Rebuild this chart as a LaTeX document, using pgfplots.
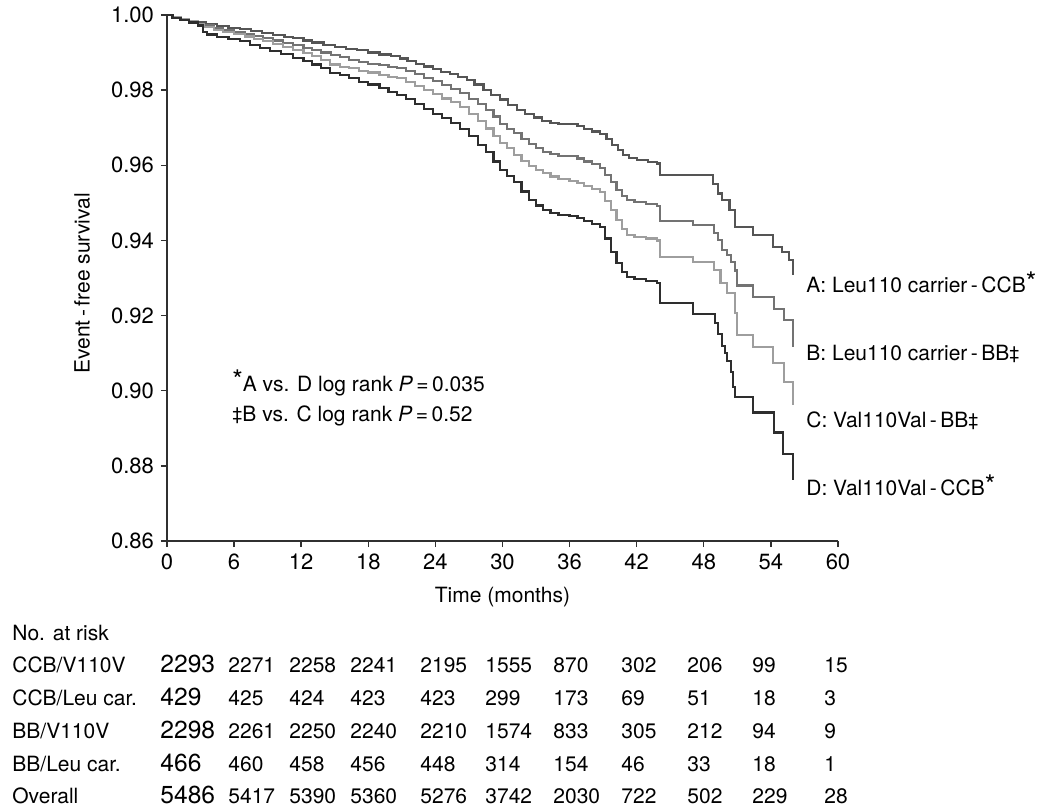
\documentclass[border=0pt]{standalone}
\usepackage{pgfplots}
\pgfplotsset{compat=1.18}
\usepackage{fontspec}
\setmainfont{TeX Gyre Heros}
\definecolor{cA}{HTML}{555555}
\definecolor{cB}{HTML}{737373}
\definecolor{cC}{HTML}{9E9E9E}
\definecolor{cD}{HTML}{2E2E2E}
\definecolor{axc}{HTML}{303030}
\newcommand{\sast}{\raisebox{0.1ex}{\fontsize{13.5}{13.5}\selectfont *}}
\newcommand{\sdag}{\raisebox{0.05ex}{\fontsize{9}{9}\selectfont ‡}}
\begin{document}
\begin{tikzpicture}
\path[use as bounding box] (-83.5pt,-134.5pt) rectangle (441.5pt,270.5pt);
\begin{axis}[
  at={(0,0)}, anchor=south west,
  width=335.5pt, height=263pt, scale only axis,
  xmin=0, xmax=60, ymin=0.86, ymax=1.00,
  axis lines=left,
  axis line style={-, draw=axc, line width=0.8pt},
  tick style={draw=axc, line width=0.7pt},
  major tick length=3pt,
  tick align=outside,
  xtick={0,6,...,60},
  ytick={0.86,0.88,...,1.001},
  /pgf/number format/assume math mode=true,
  yticklabel style={/pgf/number format/.cd, fixed, fixed zerofill, precision=2},
  ticklabel style={font=\fontsize{11}{13}\selectfont},
  xlabel={Time (months)},
  ylabel={Event\,-\,free survival},
  xlabel style={at={(axis description cs:0.5,0)}, anchor=center, yshift=-28pt, font=\fontsize{10.5}{12}\selectfont},
  ylabel style={at={(axis description cs:-0.1267,0.49)}, anchor=center, font=\fontsize{10.5}{12}\selectfont},
  clip=false,
]
% A: Leu110 carrier - CCB
\addplot[const plot, color=cA, line width=1.1pt] coordinates {
(0,1.000)(0.5,0.9995)(1.2,0.9990)(2.0,0.9985)(2.8,0.9980)(3.5,0.9975)(4.5,0.9970)(5.5,0.9965)(6.5,0.9962)(7.5,0.9958)(8.5,0.9952)(9.5,0.9947)(10.5,0.9942)(11.3,0.9938)(12.2,0.9932)(13.0,0.9927)(14.0,0.9921)(15.0,0.9915)(16.0,0.9910)(17.0,0.9906)(18.0,0.9900)(19.0,0.9895)(20.0,0.9890)(20.8,0.9884)(21.5,0.9877)(22.3,0.9870)(23.0,0.9863)(23.8,0.9856)(24.5,0.9849)(25.3,0.9842)(26.0,0.9834)(26.8,0.9826)(27.5,0.9815)(28.3,0.9800)(29.0,0.9788)(29.8,0.9775)(30.5,0.9760)(31.3,0.9748)(32.0,0.9737)(32.8,0.9727)(33.5,0.9718)(34.3,0.9712)(35.0,0.9710)(36.7,0.9705)(37.3,0.9697)(38.0,0.9690)(38.7,0.9684)(39.3,0.9670)(39.8,0.9655)(40.3,0.9640)(40.8,0.9628)(41.3,0.9620)(42.0,0.9615)(43.0,0.9609)(43.8,0.9605)(44.1,0.9574)(48.8,0.9550)(49.3,0.9525)(49.6,0.9508)(50.3,0.9480)(50.8,0.9436)(52.4,0.9414)(54.2,0.9382)(55.0,0.9369)(55.6,0.9348)(56.0,0.9308)
};
% B: Leu110 carrier - BB
\addplot[const plot, color=cB, line width=1.1pt] coordinates {
(0,1.000)(0.5,0.9995)(1.2,0.9990)(2.0,0.9984)(2.8,0.9977)(3.3,0.9972)(4.2,0.9966)(5.0,0.9960)(6.0,0.9955)(7.0,0.9950)(7.8,0.9945)(8.6,0.9938)(9.5,0.9932)(10.4,0.9926)(11.3,0.9920)(12.2,0.9913)(13.0,0.9906)(13.8,0.9900)(14.7,0.9894)(15.5,0.9888)(16.3,0.9880)(17.2,0.9875)(18.0,0.9870)(19.0,0.9866)(19.8,0.9862)(20.6,0.9858)(21.4,0.9850)(22.2,0.9842)(23.0,0.9833)(23.8,0.9824)(24.6,0.9814)(25.4,0.9804)(26.2,0.9792)(27.0,0.9777)(27.8,0.9763)(28.5,0.9748)(29.2,0.9730)(29.8,0.9710)(30.4,0.9697)(31.0,0.9685)(31.7,0.9670)(32.4,0.9657)(33.0,0.9645)(33.6,0.9635)(34.3,0.9630)(35.0,0.9625)(36.7,0.9618)(37.3,0.9610)(38.0,0.9603)(38.7,0.9593)(39.2,0.9575)(39.7,0.9555)(40.2,0.9535)(40.7,0.9518)(41.1,0.9508)(41.8,0.9503)(42.8,0.9498)(43.8,0.9492)(44.1,0.9452)(47.0,0.9441)(48.9,0.9420)(49.3,0.9401)(49.6,0.9374)(50.1,0.9362)(50.4,0.9343)(50.8,0.9320)(51.0,0.9280)(52.4,0.9250)(54.3,0.9218)(55.2,0.9188)(56.0,0.9116)
};
% C: Val110Val - BB
\addplot[const plot, color=cC, line width=1.1pt] coordinates {
(0,1.000)(0.5,0.9995)(1.2,0.9990)(2.0,0.9983)(2.8,0.9975)(3.3,0.9968)(4.2,0.9960)(5.0,0.9955)(6.0,0.9950)(7.0,0.9943)(7.8,0.9937)(8.6,0.9930)(9.5,0.9922)(10.4,0.9914)(11.3,0.9907)(12.2,0.9898)(13.0,0.9890)(13.8,0.9880)(14.6,0.9868)(15.5,0.9862)(16.3,0.9858)(17.2,0.9852)(18.0,0.9847)(19.0,0.9841)(19.8,0.9836)(20.6,0.9832)(21.4,0.9822)(22.2,0.9812)(23.0,0.9800)(23.8,0.9789)(24.6,0.9778)(25.4,0.9768)(26.2,0.9755)(27.0,0.9737)(27.8,0.9717)(28.5,0.9698)(29.2,0.9678)(29.8,0.9660)(30.4,0.9645)(31.0,0.9628)(31.7,0.9612)(32.4,0.9598)(33.0,0.9588)(33.6,0.9580)(34.3,0.9570)(35.0,0.9563)(36.0,0.9558)(36.7,0.9553)(37.3,0.9545)(38.0,0.9537)(38.7,0.9528)(39.2,0.9505)(39.7,0.9480)(40.2,0.9455)(40.7,0.9430)(41.1,0.9414)(41.8,0.9410)(42.8,0.9405)(43.8,0.9400)(44.1,0.9356)(47.0,0.9343)(48.9,0.9321)(49.5,0.9287)(50.1,0.9260)(50.8,0.9207)(51.0,0.9148)(52.4,0.9116)(54.2,0.9074)(55.2,0.9023)(56.0,0.8962)
};
% D: Val110Val - CCB
\addplot[const plot, color=cD, line width=1.1pt] coordinates {
(0,1.000)(0.5,0.9993)(1.2,0.9987)(2.0,0.9980)(2.8,0.9972)(3.2,0.9955)(3.6,0.9948)(4.5,0.9942)(5.5,0.9936)(6.5,0.9930)(7.4,0.9920)(8.3,0.9912)(9.2,0.9905)(10.2,0.9897)(11.3,0.9886)(12.2,0.9877)(13.0,0.9868)(13.8,0.9858)(14.6,0.9846)(15.5,0.9840)(16.3,0.9832)(17.2,0.9822)(18.0,0.9815)(19.0,0.9806)(19.8,0.9796)(20.6,0.9787)(21.4,0.9776)(22.2,0.9763)(23.0,0.9750)(23.8,0.9737)(24.6,0.9725)(25.4,0.9712)(26.2,0.9697)(27.0,0.9677)(27.8,0.9655)(28.5,0.9635)(29.2,0.9610)(29.8,0.9588)(30.4,0.9572)(31.0,0.9555)(31.7,0.9530)(32.4,0.9508)(33.0,0.9493)(33.6,0.9480)(34.3,0.9474)(35.0,0.9468)(36.0,0.9465)(36.7,0.9460)(37.3,0.9452)(38.0,0.9444)(38.7,0.9435)(39.2,0.9405)(39.7,0.9370)(40.2,0.9340)(40.7,0.9315)(41.1,0.9303)(41.8,0.9298)(42.8,0.9292)(43.8,0.9287)(44.1,0.9233)(47.0,0.9205)(49.0,0.9180)(49.3,0.9150)(49.6,0.9120)(49.9,0.9100)(50.1,0.9080)(50.4,0.9050)(50.6,0.9010)(50.8,0.8983)(52.4,0.8942)(54.3,0.8889)(55.1,0.8832)(56.0,0.8762)
};
\end{axis}
% curve labels
\begin{scope}[every node/.style={anchor=base west, inner sep=0pt, font=\fontsize{10.5}{12}\selectfont}]
\node at (319.5pt,124.25pt) {A: Leu110 carrier\,-\,CCB\sast};
\node at (319.5pt,90.25pt) {B: Leu110 carrier\,-\,BB\sdag};
\node at (319.5pt,56.75pt) {C: Val110Val\,-\,BB\sdag};
\node at (319.5pt,22.75pt) {D: Val110Val\,-\,CCB\sast};
\node at (32.5pt,75pt) {\sast A vs. D log rank \textit{P}\,=\,0.035};
\node at (32.5pt,60pt) {\sdag B vs. C log rank \textit{P}\,=\,0.52};
% risk table
\node at (-77.5pt,-49.5pt) {No. at risk};
\node at (-77.5pt,-65.5pt) {CCB/V110V};
\node at (-77.5pt,-82pt) {CCB/Leu car.};
\node at (-77.5pt,-98.5pt) {BB/V110V};
\node at (-77.5pt,-115pt) {BB/Leu car.};
\node at (-77.5pt,-131pt) {Overall};
\node[font=\fontsize{12.3}{14}\selectfont] at (-3.5pt,-65.5pt) {2293};
\node[font=\fontsize{12.3}{14}\selectfont] at (-3.5pt,-82pt) {429};
\node[font=\fontsize{12.3}{14}\selectfont] at (-3.5pt,-98.5pt) {2298};
\node[font=\fontsize{12.3}{14}\selectfont] at (-3.5pt,-115pt) {466};
\node[font=\fontsize{12.3}{14}\selectfont] at (-3.5pt,-131pt) {5486};
\foreach \x/\v in {30.5/2271,61/2258,91.5/2241,126.5/2195,159/1555,193/870,227/302,260/206,292.5/99,328.5/15}
  \node at (\x pt,-65.5pt) {\v};
\foreach \x/\v in {30.5/425,61/424,91.5/423,126.5/423,159/299,193/173,227/69,260/51,292.5/18,328.5/3}
  \node at (\x pt,-82pt) {\v};
\foreach \x/\v in {30.5/2261,61/2250,91.5/2240,126.5/2210,159/1574,193/833,227/305,260/212,292.5/94,328.5/9}
  \node at (\x pt,-98.5pt) {\v};
\foreach \x/\v in {30.5/460,61/458,91.5/456,126.5/448,159/314,193/154,227/46,260/33,292.5/18,328.5/1}
  \node at (\x pt,-115pt) {\v};
\foreach \x/\v in {30.5/5417,61/5390,91.5/5360,126.5/5276,159/3742,193/2030,227/722,260/502,292.5/229,328.5/28}
  \node at (\x pt,-131pt) {\v};
\end{scope}
\end{tikzpicture}
\end{document}
